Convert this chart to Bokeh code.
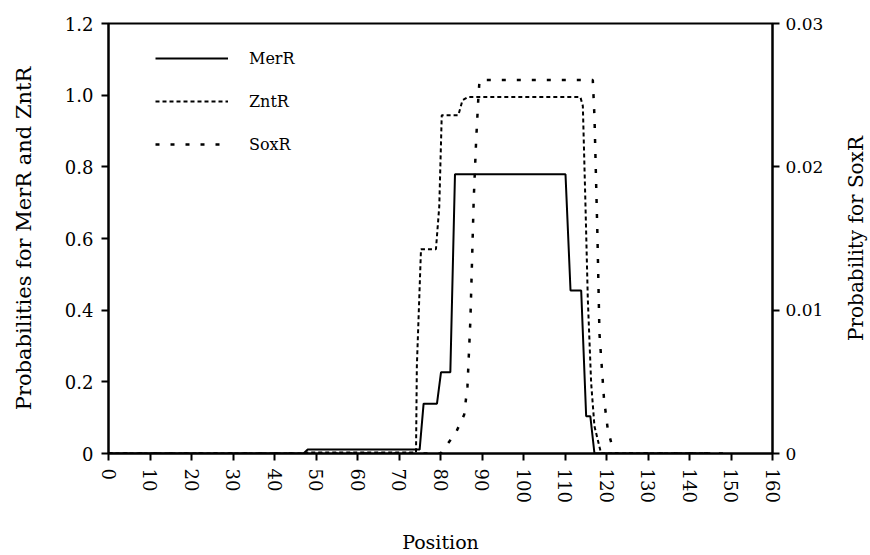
import math
from bokeh.plotting import figure
from bokeh.layouts import row
from bokeh.models import (Range1d, LinearAxis, FixedTicker, Legend, LegendItem)
from bokeh.core.properties import value
from bokeh.embed import file_html
from bokeh.resources import INLINE

# ---- data ----
merr_pos = [0, 47, 48, 74.97, 75.93, 79.15, 80.12, 82.37, 83.49, 110.12, 111.33, 113.9, 115.1, 116.1, 117.1, 145]
merr_val = [0, 0, 0.011, 0.011, 0.139, 0.139, 0.2265, 0.2265, 0.779, 0.779, 0.455, 0.455, 0.104, 0.104, 0, 0]

zntr_pos = [0, 47.5, 48, 74.1, 74.3, 75.3, 78.9, 79.7, 80.3, 84.3, 85.3, 86.7, 113.7, 114.3, 114.9, 115.5, 116.3, 117.1, 118.7, 145]
zntr_val = [0, 0, 0.003, 0.003, 0.243, 0.570, 0.570, 0.689, 0.944, 0.944, 0.986, 0.995, 0.995, 0.97, 0.708, 0.43, 0.197, 0.076, 0, 0]

soxr_pos = [0, 80, 81.3, 83.7, 85.7, 86.5, 87.2, 87.5, 88.0, 88.6, 89.1, 89.4, 116.7, 117.1, 117.8, 118.3, 119.4, 120.3, 121.1, 122, 150]
soxr_val = [0, 0, 0.0005, 0.00145, 0.0027, 0.0047, 0.0093, 0.0124, 0.0177, 0.0219, 0.0247, 0.02605, 0.02605, 0.0235, 0.0154, 0.0084, 0.0038, 0.0017, 0.0008, 0, 0]

x_ticks = list(range(0, 161, 10))
left_ticks = [0, 0.2, 0.4, 0.6, 0.8, 1.0, 1.2]
left_labels = ["0", "0.2", "0.4", "0.6", "0.8", "1.0", "1.2"]
right_ticks = [0, 0.01, 0.02, 0.03]
right_labels = ["0", "0.01", "0.02", "0.03"]
right_title = "Probability for SoxR"

FONT = "DejaVu Serif"

p = figure(width=838, height=555, output_backend="svg", toolbar_location=None,
           x_range=Range1d(0, 160), y_range=Range1d(0, 1.2),
           min_border_left=108, min_border_right=66, min_border_top=23, min_border_bottom=101)
p.extra_y_ranges = {"sox": Range1d(0, 0.03)}
p.grid.visible = False
p.background_fill_color = "white"
p.border_fill_color = "white"
p.outline_line_color = "black"
p.outline_line_width = 2

r_merr = p.line(merr_pos, merr_val, line_color="black", line_width=2)
r_zntr = p.line(zntr_pos, zntr_val, line_color="black", line_width=2, line_dash="4 3")
r_soxr = p.line(soxr_pos, soxr_val, line_color="black", line_width=2.5, line_dash="4 11", y_range_name="sox")

# bottom axis
xa = p.xaxis[0]
xa.ticker = FixedTicker(ticks=x_ticks)
xa.major_label_orientation = "vertical"
xa.axis_label = "Position"
xa.axis_label_standoff = 25

# left axis
ya = p.yaxis[0]
ya.ticker = FixedTicker(ticks=left_ticks)
ya.major_label_overrides = {t: l for t, l in zip(left_ticks, left_labels)}
ya.axis_label = "Probabilities for MerR and ZntR"
ya.axis_label_standoff = 26

# right axis
ra = LinearAxis(y_range_name="sox")
ra.ticker = FixedTicker(ticks=right_ticks)
ra.major_label_overrides = {t: l for t, l in zip(right_ticks, right_labels)}
p.add_layout(ra, "right")

for ax in [xa, ya, ra]:
    ax.axis_line_width = 2
    ax.axis_line_color = "black"
    ax.major_tick_line_width = 2
    ax.major_tick_line_color = "black"
    ax.major_tick_in = 0
    ax.major_tick_out = 7
    ax.minor_tick_line_color = None
    ax.major_label_text_font = FONT
    ax.major_label_text_font_size = "18px"
    ax.major_label_text_color = "black"
    ax.axis_label_text_font = FONT
    ax.axis_label_text_font_style = "normal"
    ax.axis_label_text_font_size = "21px"
    ax.axis_label_text_color = "black"
    ax.major_label_standoff = 8
xa.axis_label_text_font_size = "19px"
ra.major_label_standoff = 6
ra.major_label_text_font_size = "17px"

legend = Legend(items=[LegendItem(label="MerR", renderers=[r_merr]),
                       LegendItem(label="ZntR", renderers=[r_zntr]),
                       LegendItem(label="SoxR", renderers=[r_soxr])],
                location=(47, 299), padding=10, spacing=23,
                glyph_width=73, glyph_height=20, label_height=20, label_standoff=21,
                border_line_color=None, background_fill_alpha=0,
                label_text_font=FONT, label_text_font_size="16px", label_text_color="black")
p.add_layout(legend)

# narrow strip holding the right-hand axis title (reads bottom-to-top)
p2 = figure(width=32, height=555, output_backend="svg", toolbar_location=None,
            x_range=Range1d(0, 1), y_range=Range1d(0, 1.2),
            x_axis_location=None, y_axis_location=None,
            min_border_left=0, min_border_right=0, min_border_top=23, min_border_bottom=101)
p2.grid.visible = False
p2.outline_line_color = None
p2.background_fill_color = "white"
p2.border_fill_color = "white"
p2.text(x=[0.55], y=[0.6], text=[right_title], angle=math.pi / 2,
        text_align="center", text_baseline="middle",
        text_font=value(FONT), text_font_size="20px", text_color="black")

layout = row(p, p2, spacing=0)
open("out.html", "w").write(file_html(layout, INLINE))
